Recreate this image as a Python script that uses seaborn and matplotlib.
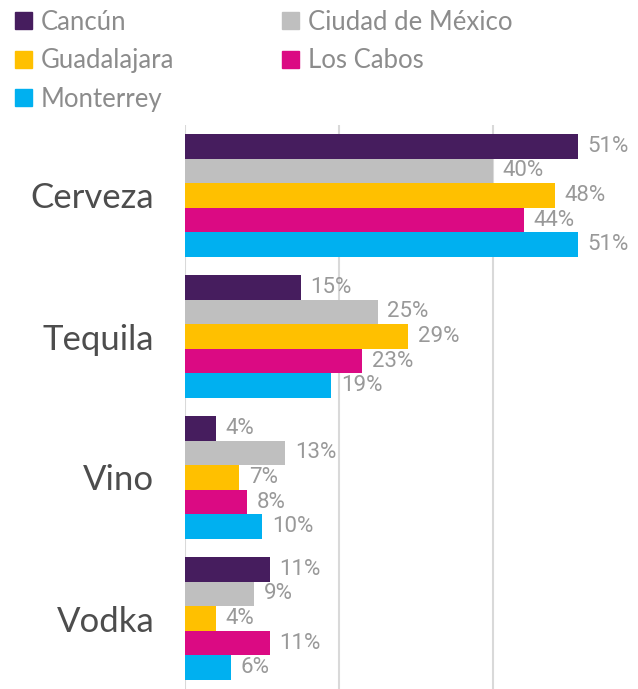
import numpy as np
import pandas as pd
import seaborn as sns
import matplotlib
import matplotlib.pyplot as plt
from matplotlib.patches import Patch
matplotlib.use('Agg')

# data
bebidas = ['Cerveza', 'Tequila', 'Vino', 'Vodka']
ciudades = ['Cancún', 'Ciudad de México', 'Guadalajara', 'Los Cabos', 'Monterrey']
cancun = [51, 15, 4, 11]
cdmx = [40, 25, 13, 9]
guadalajara = [48, 29, 7, 4]
los_cabos = [44, 23, 8, 11]
monterrey = [51, 19, 10, 6]
colores = ['#461D5E', '#BFBFBF', '#FFC000', '#DB0A83', '#00B0F0']


def main():
    series = [cancun, cdmx, guadalajara, los_cabos, monterrey]
    df = pd.DataFrame({
        'bebida': np.tile(bebidas, len(ciudades)),
        'ciudad': np.repeat(ciudades, len(bebidas)),
        'valor': np.concatenate(series),
    })

    sns.set_style('white')
    plt.rcParams['font.family'] = ['Lato', 'DejaVu Sans']

    fig = plt.figure(figsize=(6.38, 6.89), dpi=100)
    ax = fig.add_axes([185 / 638, 0.0, 1 - 185 / 638, 1 - 125 / 689])
    sns.barplot(data=df, y='bebida', x='valor', hue='ciudad', order=bebidas,
                hue_order=ciudades, palette=colores, orient='h', width=0.87,
                gap=0, ax=ax, legend=False, errorbar=None, linewidth=0,
                saturation=1)

    for cont in ax.containers:
        ax.bar_label(cont, fmt='%d%%', padding=7, color='#999999', fontsize=16,
                     family=['Roboto', 'DejaVu Sans'])

    ax.set_xlim(0, 58.8)
    ax.set_xticks([0, 20, 40])
    ax.set_xticklabels([])
    ax.grid(axis='x', color='#D9D9D9', linewidth=1.5)
    ax.set_axisbelow(True)
    sns.despine(ax=ax, left=True, bottom=True)
    ax.tick_params(axis='both', length=0)
    ax.set_xlabel('')
    ax.set_ylabel('')
    for lab in ax.get_yticklabels():
        lab.set_fontsize(25)
        lab.set_color('#4D4D4D')
    ax.tick_params(axis='y', pad=22)

    orden = [0, 2, 4, 1, 3]
    handles = [Patch(color=colores[i], label=ciudades[i]) for i in orden]
    fig.legend(handles=handles, loc='upper left', bbox_to_anchor=(0.0, 1.008),
               ncol=2, frameon=False, labelcolor='#8C8C8C',
               handlelength=0.65, handleheight=0.65, handletextpad=0.35,
               columnspacing=4.2, labelspacing=0.52, borderaxespad=0.2,
               prop={'size': 18.5})

    fig.savefig('out.png', dpi=100)


if __name__ == '__main__':
    main()
